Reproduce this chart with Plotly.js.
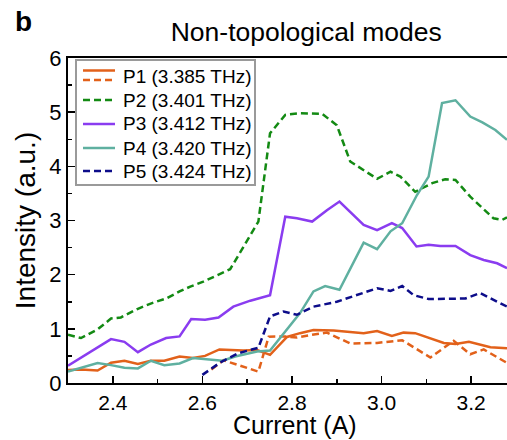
<!DOCTYPE html>
<html>
<head>
<meta charset="utf-8">
<script src="https://cdn.plot.ly/plotly-3.0.1.min.js"></script>
<style>html,body{margin:0;padding:0;background:#fff;}#chart{width:507px;height:440px;}</style>
</head>
<body>
<div id="chart"></div>
<script>
// P1 (3.385 THz) solid
const p1aX = [2.30,2.33,2.366,2.396,2.426,2.456,2.485,2.515,2.549,2.579,2.606,2.638,2.691,2.722,2.751,2.789,2.818,2.848,2.893,2.96,2.99,3.023,3.049,3.075,3.139,3.165,3.195,3.243,3.28];
const p1aY = [0.24,0.25,0.23,0.375,0.41,0.35,0.41,0.41,0.49,0.46,0.50,0.62,0.60,0.61,0.52,0.85,0.92,0.98,0.97,0.92,0.96,0.87,0.93,0.92,0.74,0.72,0.76,0.66,0.64];
// P1 (3.385 THz) dashed
const p1bX = [2.62,2.647,2.725,2.748,2.785,2.811,2.845,2.878,2.93,2.99,3.046,3.109,3.161,3.198,3.228,3.28];
const p1bY = [0.25,0.42,0.21,0.855,0.86,0.84,0.89,0.93,0.73,0.74,0.79,0.47,0.78,0.53,0.62,0.37];
// P2 (3.401 THz)
const p2X = [2.30,2.329,2.366,2.396,2.418,2.456,2.489,2.519,2.549,2.573,2.602,2.632,2.662,2.725,2.751,2.785,2.818,2.867,2.90,2.93,2.99,3.02,3.042,3.075,3.113,3.142,3.165,3.198,3.25,3.269,3.28];
const p2Y = [0.89,0.83,0.99,1.19,1.21,1.37,1.48,1.56,1.69,1.78,1.87,1.99,2.10,2.98,4.61,4.95,4.98,4.97,4.76,4.09,3.77,3.90,3.81,3.53,3.69,3.76,3.75,3.44,3.04,3.01,3.06];
// P3 (3.412 THz)
const p3X = [2.30,2.396,2.426,2.456,2.485,2.519,2.549,2.575,2.606,2.636,2.669,2.707,2.751,2.785,2.811,2.845,2.878,2.906,2.96,2.99,3.023,3.046,3.078,3.105,3.131,3.165,3.198,3.228,3.258,3.28];
const p3Y = [0.32,0.81,0.76,0.57,0.71,0.83,0.86,1.18,1.17,1.21,1.41,1.52,1.62,3.07,3.04,2.98,3.19,3.35,2.92,2.82,2.95,2.86,2.52,2.55,2.53,2.53,2.36,2.27,2.21,2.12];
// P4 (3.420 THz)
const p4X = [2.30,2.366,2.396,2.426,2.456,2.485,2.515,2.549,2.579,2.608,2.645,2.673,2.722,2.751,2.818,2.848,2.874,2.906,2.96,2.99,3.02,3.046,3.079,3.105,3.135,3.165,3.198,3.225,3.254,3.28];
const p4Y = [0.21,0.37,0.33,0.28,0.27,0.41,0.33,0.36,0.46,0.44,0.41,0.49,0.58,0.60,1.29,1.69,1.79,1.72,2.59,2.47,2.80,2.95,3.47,3.81,5.17,5.22,4.92,4.81,4.67,4.49];
// P5 (3.424 THz)
const p5X = [2.60,2.64,2.68,2.725,2.751,2.781,2.811,2.848,2.90,2.99,3.02,3.046,3.072,3.105,3.187,3.22,3.28];
const p5Y = [0.15,0.38,0.55,0.65,1.23,1.32,1.26,1.41,1.50,1.75,1.70,1.79,1.62,1.55,1.56,1.66,1.41];

const names = ['P1 (3.385 THz)','P2 (3.401 THz)','P3 (3.412 THz)','P4 (3.420 THz)','P5 (3.424 THz)'];
const colors = ['#e2611a','#138a13','#8a3cf0','#5fb0a0','#0d0d8a'];
const font = 'Arial, "Liberation Sans", sans-serif';
const LW = 2.5, DASH = '7px,4px';

const traces = [
  {x:p1aX, y:p1aY, name:names[0], mode:'lines', line:{color:colors[0], width:LW}},
  {x:p1bX, y:p1bY, name:names[0], mode:'lines', line:{color:colors[0], width:LW, dash:DASH}},
  {x:p2X, y:p2Y, name:names[1], mode:'lines', line:{color:colors[1], width:LW, dash:DASH}},
  {x:p3X, y:p3Y, name:names[2], mode:'lines', line:{color:colors[2], width:LW}},
  {x:p4X, y:p4Y, name:names[3], mode:'lines', line:{color:colors[3], width:LW}},
  {x:p5X, y:p5Y, name:names[4], mode:'lines', line:{color:colors[4], width:LW, dash:DASH}}
];

// Legend and labels placed in paper coordinates (plot area: x 68..507 px, y 58..383 px)
const PL = 68, PW = 439, PB = 383, PH = 325;
const px = v => (v - PL) / PW;
const py = v => (PB - v) / PH;
const shapes = [
  {type:'rect', xref:'paper', yref:'paper', x0:px(76), x1:px(255), y0:py(60), y1:py(185), line:{color:'#9a9a9a', width:2}, fillcolor:'#fff', layer:'above'}
];
const annotations = [
  {text:'<b>b</b>', xref:'paper', yref:'paper', x:-0.125, y:1.165, xanchor:'left', yanchor:'top', showarrow:false, font:{size:28, family:font, color:'#000'}},
  {text:'Current (A)', xref:'paper', yref:'paper', x:px(295), y:py(440), xanchor:'center', yanchor:'bottom', showarrow:false, borderpad:0, font:{size:25, family:font, color:'#000'}}
];
const rowY = [76, 100, 124, 148, 171];
const legendLines = [
  [{c:0, dash:'solid', dy:-5.5}, {c:0, dash:DASH, dy:4}],
  [{c:1, dash:DASH, dy:0}],
  [{c:2, dash:'solid', dy:0}],
  [{c:3, dash:'solid', dy:0}],
  [{c:4, dash:DASH, dy:0}]
];
names.forEach((n, i) => {
  legendLines[i].forEach(s => {
    shapes.push({type:'line', xref:'paper', yref:'paper', x0:px(83), x1:px(115), y0:py(rowY[i] + s.dy), y1:py(rowY[i] + s.dy), line:{color:colors[s.c], width:LW, dash:s.dash}, layer:'above'});
  });
  annotations.push({text:n, xref:'paper', yref:'paper', x:px(121), y:py(rowY[i]), xanchor:'left', yanchor:'middle', showarrow:false, font:{size:19, family:font, color:'#000'}});
});

const layout = {
  width:507, height:440,
  margin:{l:68, r:0, t:58, b:57},
  paper_bgcolor:'#fff', plot_bgcolor:'#fff',
  font:{family:font, color:'#000'},
  showlegend:false,
  title:{text:'Non-topological modes', font:{size:26.5, family:font, color:'#000'}, x:0.604, xref:'container', xanchor:'center', y:0.928, yref:'container', yanchor:'middle'},
  xaxis:{
    range:[2.3, 3.28], dtick:0.2, tick0:2.4, tickformat:'.1f',
    ticks:'inside', ticklen:7, tickwidth:1.5, tickcolor:'#000',
    minor:{dtick:0.1, ticks:'inside', ticklen:4, tickwidth:1.5, tickcolor:'#000'},
    showline:true, linecolor:'#000', linewidth:2, mirror:true,
    showgrid:false, zeroline:false, automargin:false,
    tickfont:{size:21, family:font}
  },
  yaxis:{
    range:[0, 6], dtick:1,
    ticks:'inside', ticklen:7, tickwidth:1.5, tickcolor:'#000',
    minor:{dtick:0.5, ticks:'inside', ticklen:4, tickwidth:1.5, tickcolor:'#000'},
    showline:true, linecolor:'#000', linewidth:2,
    showgrid:false, zeroline:false,
    tickfont:{size:22, family:font},
    title:{text:'Intensity (a.u.)', font:{size:28, family:font}, standoff:6}
  },
  shapes: shapes,
  annotations: annotations
};

Plotly.newPlot('chart', traces, layout, {staticPlot:true, displayModeBar:false});
</script>
</body>
</html>
